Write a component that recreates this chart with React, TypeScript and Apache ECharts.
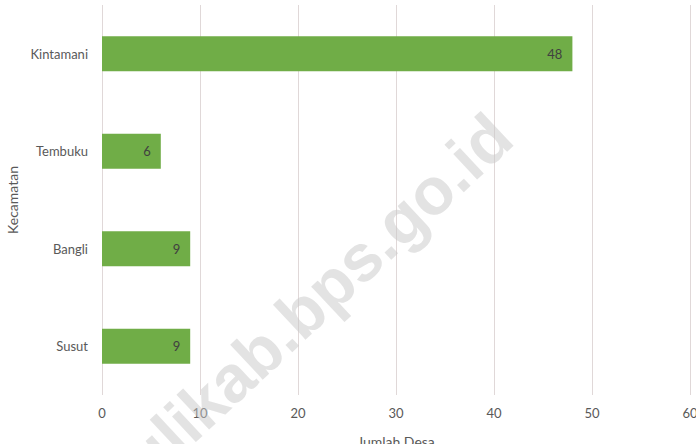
import React, { useEffect, useRef } from "react";
import * as echarts from "echarts";

const categories = ["Kintamani", "Tembuku", "Bangli", "Susut"];
const values = [48, 6, 9, 9];
const xTicks = [0, 10, 20, 30, 40, 50, 60];
const xAxisTitle = "Jumlah Desa";
const yAxisTitle = "Kecamatan";
const watermark = "banglikab.bps.go.id";

export default function App() {
  const ref = useRef<HTMLDivElement>(null);
  useEffect(() => {
    if (!ref.current) return;
    const chart = echarts.init(ref.current, undefined, { renderer: "svg" });
    const font = "Lato, 'Open Sans', sans-serif";
    chart.setOption({
      animation: false,
      backgroundColor: "#ffffff",
      grid: {
        left: 102,
        right: 6,
        top: 5,
        bottom: 49,
        containLabel: false,
        outerBoundsMode: "none",
      },
      xAxis: {
        type: "value",
        min: xTicks[0],
        max: xTicks[xTicks.length - 1],
        interval: 10,
        axisLine: { show: false },
        axisTick: { show: false },
        splitLine: { show: true, lineStyle: { color: "#e0d8d8", width: 1 } },
        axisLabel: { color: "#595959", fontSize: 13, fontFamily: font, margin: 11 },
        name: xAxisTitle,
        nameLocation: "middle",
        nameGap: 39,
        nameTextStyle: { color: "#595959", fontSize: 14, fontFamily: font },
      },
      yAxis: {
        type: "category",
        data: categories,
        inverse: true,
        axisLine: { show: false },
        axisTick: { show: false },
        axisLabel: { color: "#595959", fontSize: 13, fontFamily: font, margin: 14 },
        name: yAxisTitle,
        nameLocation: "middle",
        nameGap: 81,
        nameRotate: 90,
        nameTextStyle: { color: "#595959", fontSize: 14, fontFamily: font },
      },
      series: [
        {
          type: "bar",
          data: values,
          barCategoryGap: "64%",
          itemStyle: { color: "#70ad47" },
          label: {
            show: true,
            position: "insideRight",
            offset: [-5, 0],
            color: "#404040",
            fontSize: 13,
            fontFamily: font,
          },
          z: 2,
        },
      ],
      graphic: [
        {
          type: "text",
          x: 501,
          y: 126,
          rotation: (43 * Math.PI) / 180,
          z: 100,
          style: {
            text: watermark,
            fill: "rgba(200,200,200,0.5)",
            font: "bold 66px 'Liberation Sans', Arial, sans-serif",
            textAlign: "right",
            textVerticalAlign: "middle",
          },
        },
      ],
    });
    return () => chart.dispose();
  }, []);
  return <div ref={ref} style={{ width: 696, height: 444, position: "absolute", left: 0, top: 0 }} />;
}
